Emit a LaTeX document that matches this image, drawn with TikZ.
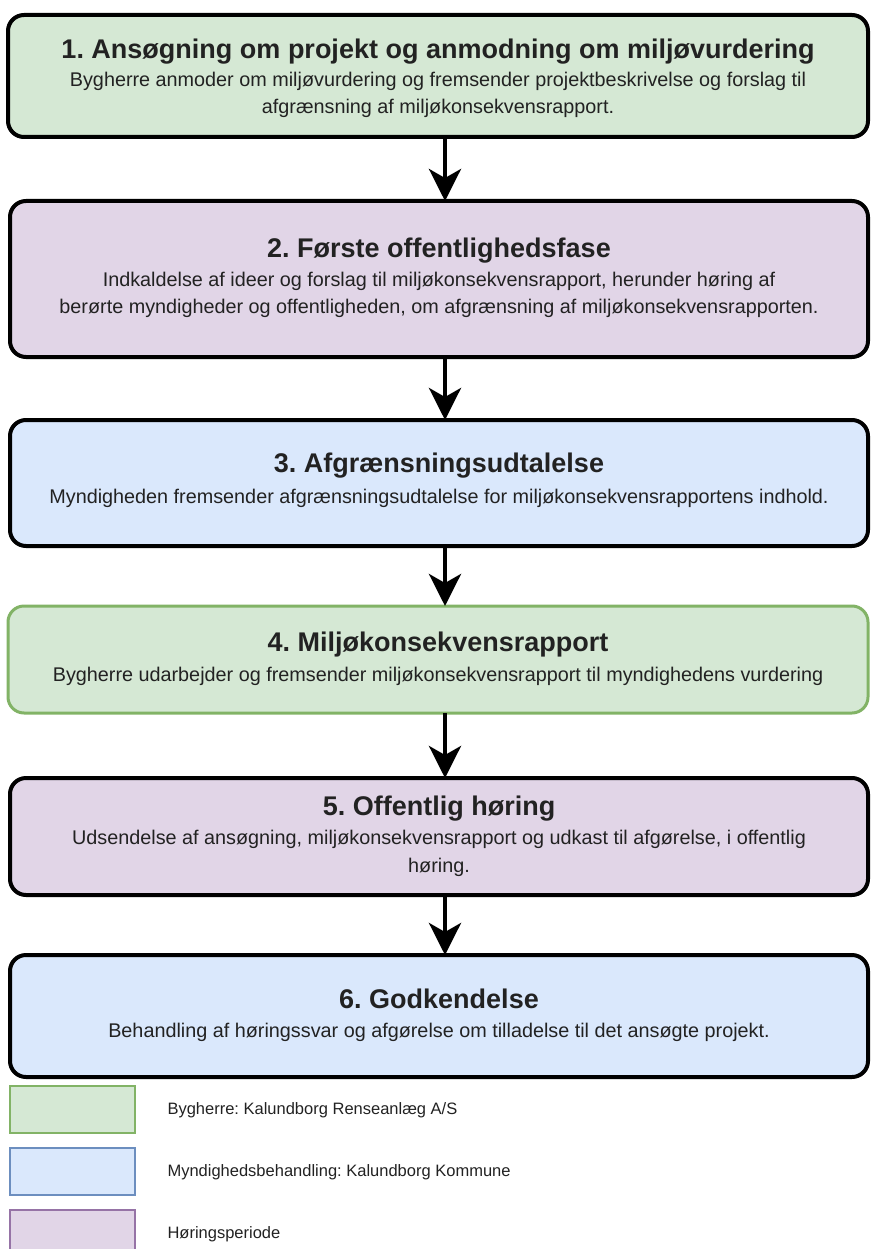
\documentclass[tikz,border=0pt]{standalone}
\usepackage{fontspec}
\setmainfont{Liberation Sans}
\usetikzlibrary{arrows.meta}
\frenchspacing
\definecolor{gfill}{HTML}{D5E8D4}
\definecolor{gline}{HTML}{82B366}
\definecolor{bfill}{HTML}{DAE8FC}
\definecolor{bline}{HTML}{6C8EBF}
\definecolor{pfill}{HTML}{E1D5E7}
\definecolor{pline}{HTML}{9673A6}
\definecolor{txt}{HTML}{222222}
\tikzset{
  stepbox/.style={draw=black, line width=4pt, rounded corners=16pt},
  ttl/.style={font=\fontsize{27}{30}\selectfont\bfseries, text=txt, anchor=base},
  body/.style={font=\fontsize{19.8}{24}\selectfont, text=txt, anchor=base},
  flow/.style={line width=4.5pt, -{Stealth[length=32pt,width=32pt,inset=9pt]}},
  legsq/.style={line width=1.2pt},
  legtxt/.style={font=\fontsize{16.5}{20}\selectfont, text=txt, anchor=west}
}
\begin{document}
\begin{tikzpicture}[x=1pt,y=-1pt]
\useasboundingbox (0,0) rectangle (871,1249);
% boxes
\draw[stepbox, fill=gfill] (8,15) rectangle (868,137);
\draw[stepbox, fill=pfill] (10,201) rectangle (868,357);
\draw[stepbox, fill=bfill] (10,420) rectangle (868,546);
\draw[stepbox, fill=gfill, draw=gline, line width=3pt] (8,606) rectangle (868,713);
\draw[stepbox, fill=pfill] (10,778) rectangle (868,895);
\draw[stepbox, fill=bfill] (10,955) rectangle (868,1077);
% anchors for connectors
\coordinate (b1s) at (445,137);
\coordinate (b2n) at (445,201);
\coordinate (b2s) at (445,357);
\coordinate (b3n) at (445,420);
\coordinate (b3s) at (445,546);
\coordinate (b4n) at (445,606);
\coordinate (b4s) at (445,713);
\coordinate (b5n) at (445,778);
\coordinate (b5s) at (445,895);
\coordinate (b6n) at (445,955);
% texts
\node[ttl] (t1) at (438,59) {1. Ansøgning om projekt og anmodning om miljøvurdering};
\node[body] (d1a) at (438,87) {Bygherre anmoder om miljøvurdering og fremsender projektbeskrivelse og forslag til};
\node[body] (d1b) at (438,114) {afgrænsning af miljøkonsekvensrapport.};
\node[ttl] (t2) at (439,258) {2. Første offentlighedsfase};
\node[body] (d2a) at (439,286) {Indkaldelse af ideer og forslag til miljøkonsekvensrapport, herunder høring af};
\node[body] (d2b) at (439,313) {berørte myndigheder og offentligheden, om afgrænsning af miljøkonsekvensrapporten.};
\node[ttl] (t3) at (439,472) {3. Afgrænsningsudtalelse};
\node[body] (d3) at (439,503) {Myndigheden fremsender afgrænsningsudtalelse for miljøkonsekvensrapportens indhold.};
\node[ttl] (t4) at (438,651) {4. Miljøkonsekvensrapport};
\node[body] (d4) at (438,681) {Bygherre udarbejder og fremsender miljøkonsekvensrapport til myndighedens vurdering};
\node[ttl] (t5) at (439,815) {5. Offentlig høring};
\node[body] (d5a) at (439,844) {Udsendelse af ansøgning, miljøkonsekvensrapport og udkast til afgørelse, i offentlig};
\node[body] (d5b) at (439,872) {høring.};
\node[ttl] (t6) at (439,1008) {6. Godkendelse};
\node[body] (d6) at (439,1037) {Behandling af høringssvar og afgørelse om tilladelse til det ansøgte projekt.};
% connectors
\draw[flow] (b1s) -- (b2n);
\draw[flow] (b2s) -- (b3n);
\draw[flow] (b3s) -- (b4n);
\draw[flow] (b4s) -- (b5n);
\draw[flow] (b5s) -- (b6n);
% legend
\draw[legsq, fill=gfill, draw=gline] (10,1086) rectangle (135,1133);
\draw[legsq, fill=bfill, draw=bline] (10,1148) rectangle (135,1195);
\draw[legsq, fill=pfill, draw=pline] (10,1210) rectangle (135,1257);
\node[legtxt] (l1) at (164,1110) {Bygherre: Kalundborg Renseanlæg A/S};
\node[legtxt] (l2) at (164,1172) {Myndighedsbehandling: Kalundborg Kommune};
\node[legtxt] (l3) at (164,1234) {Høringsperiode};
\end{tikzpicture}
\end{document}
